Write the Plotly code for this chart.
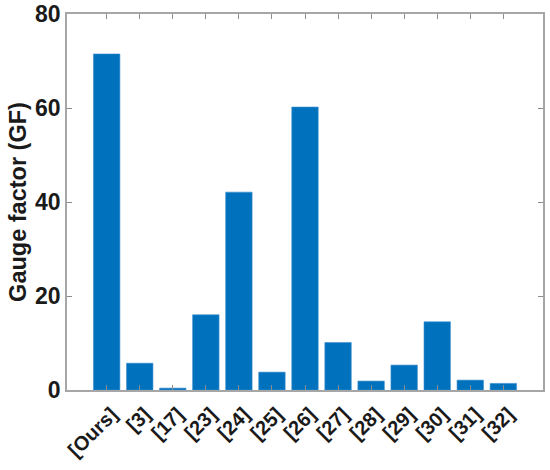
import plotly.graph_objects as go

refs = ["[Ours]", "[3]", "[17]", "[23]", "[24]", "[25]", "[26]", "[27]",
        "[28]", "[29]", "[30]", "[31]", "[32]"]
gauge_factor = [71.5, 5.7, 0.4, 16.0, 42.1, 3.8, 60.2, 10.1, 1.9, 5.3, 14.5, 2.1, 1.4]

fig = go.Figure()

fig.add_trace(go.Bar(
    x=list(range(len(refs))),
    y=gauge_factor,
    width=0.8,
    marker=dict(color='#0072BD', line=dict(color='#3a8fd0', width=0.6)),
))

axis_style = dict(
    showline=True, linecolor='#a6a6a6', linewidth=1.5, mirror='ticks',
    ticks='inside', ticklen=5, tickcolor='#8c8c8c', tickwidth=1,
    showgrid=False, zeroline=False, automargin=False,
)

fig.update_xaxes(
    range=[-1.2, 13.2],
    tickmode='array',
    tickvals=list(range(len(refs))),
    ticktext=refs,
    tickangle=-45,
    ticklabelshift=5,
    ticklabelstandoff=3,
    tickfont=dict(family='Liberation Sans, Arial', size=20, color='#1a1a1a', weight='bold'),
    **axis_style
)
fig.update_yaxes(
    range=[0, 80],
    tickvals=[0, 20, 40, 60, 80],
    tickfont=dict(family='Liberation Sans, Arial', size=23, color='#1a1a1a', weight='bold'),
    title=dict(text='<b>Gauge factor (GF)</b>',
               font=dict(family='Liberation Sans, Arial', size=23.5, color='#1a1a1a'),
               standoff=2),
    **axis_style
)

fig.update_layout(
    width=550, height=470,
    margin=dict(l=67, r=7, t=14, b=80),
    plot_bgcolor='white', paper_bgcolor='white',
    showlegend=False,
)

# drop the default 8px body margin so the figure sits at the page corner
fig.write_html("out.html", config={'displayModeBar': False},
               post_script="document.body.style.margin='0';")
